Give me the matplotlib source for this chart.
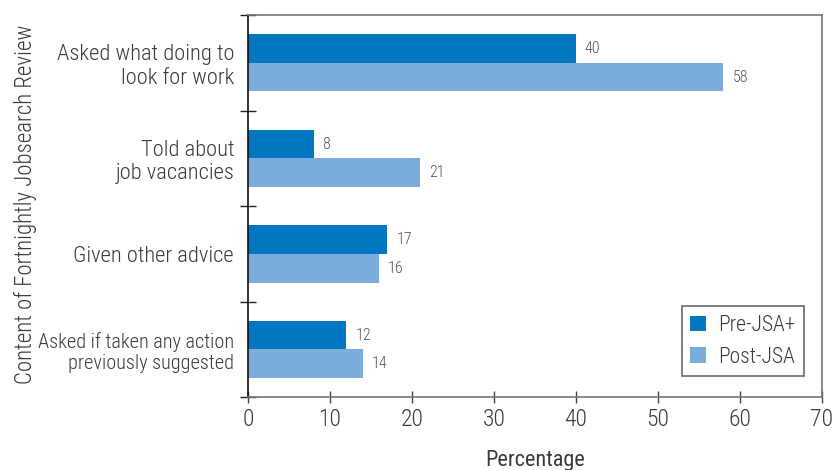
import matplotlib.pyplot as plt
import numpy as np

categories = [
    "Asked what doing to\nlook for work",
    "Told about\njob vacancies",
    "Given other advice",
    "Asked if taken any action\npreviously suggested",
]
pre_jsa = [40, 8, 17, 12]
post_jsa = [58, 21, 16, 14]
series_names = ["Pre-JSA+", "Post-JSA"]
x_ticks = [0, 10, 20, 30, 40, 50, 60, 70]

plt.rcParams["font.family"] = ["Roboto Condensed", "DejaVu Sans"]
plt.rcParams["font.weight"] = "light"

TEXT = "#3a3a3a"
PRE = "#0077c0"
POST = "#7aacdc"

fig = plt.figure(figsize=(8.35, 4.7), dpi=100)
ax = fig.add_axes([0.297, 0.155, 0.687, 0.813])

pos = np.arange(len(categories))
h = 0.30
ax.barh(pos - h / 2, pre_jsa, height=h, color=PRE, label=series_names[0])
ax.barh(pos + h / 2, post_jsa, height=h, color=POST, label=series_names[1])

for y, v in zip(pos - h / 2, pre_jsa):
    ax.text(v + 1.1, y, str(v), va="center", ha="left", fontsize=11.5, color="#555555")
for y, v in zip(pos + h / 2, post_jsa):
    ax.text(v + 1.1, y, str(v), va="center", ha="left", fontsize=11.5, color="#555555")

ax.set_xlim(0, 70)
ax.set_ylim(len(categories) - 0.5, -0.5)
ax.set_xticks(x_ticks)
ax.set_xticklabels([str(t) for t in x_ticks], fontsize=17, color=TEXT)

# category labels sit between the boundary ticks
ax.set_yticks(np.arange(len(categories) + 1) - 0.5)
ax.set_yticklabels([])
ax.set_yticks(pos, minor=True)
labels = ax.set_yticklabels(categories, minor=True, fontsize=16.2, color=TEXT,
                            linespacing=1.15)
labels[-1].set_fontsize(14.6)
ax.tick_params(axis="y", which="minor", length=0, pad=10)
ax.tick_params(axis="y", which="major", direction="inout", length=11, width=1, color="#222222")
ax.tick_params(axis="x", direction="inout", length=9, width=1, color="#444444", pad=3)

for side in ["top", "right", "bottom"]:
    ax.spines[side].set_color("#777777")
    ax.spines[side].set_linewidth(1.2)
ax.spines["left"].set_color("#111111")
ax.spines["left"].set_linewidth(1.2)

ax.set_xlabel("Percentage", fontsize=16, color=TEXT, labelpad=14)
fig.text(0.03, 0.565, "Content of Fortnightly Jobsearch Review", rotation=90,
         fontsize=16.5, color=TEXT, ha="center", va="center")

leg = ax.legend(loc="lower right", bbox_to_anchor=(0.970, 0.055), borderaxespad=0,
                fontsize=15.5, frameon=True, fancybox=False, edgecolor="#444444",
                handlelength=0.7, handleheight=0.7, labelspacing=0.5,
                handletextpad=0.6, borderpad=0.4, labelcolor=TEXT)
leg.get_frame().set_linewidth(1.2)

fig.savefig("out.png", dpi=100)
